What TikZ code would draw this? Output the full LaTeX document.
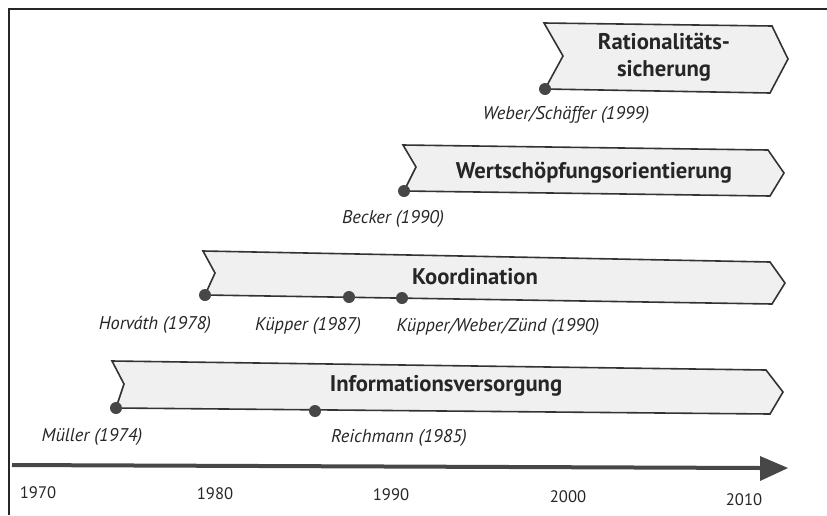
\documentclass[tikz,border=0pt]{standalone}
\usepackage{fontspec}
\setmainfont{PT Sans}
\begin{document}
\begin{tikzpicture}[x=0.75pt,y=-0.75pt,
  phase/.style={draw=black!80,line width=1.2pt,fill=black!6,line join=miter},
  phasetext/.style={font=\bfseries\fontsize{17}{20.5}\selectfont,text=black!85,align=center,inner sep=0pt},
  event/.style={circle,fill=black!72,inner sep=0pt,minimum size=9pt},
  author/.style={font=\itshape\fontsize{13.8}{15}\selectfont,text=black!85,inner sep=0pt},
  year/.style={font=\fontsize{12.5}{14}\selectfont,text=black!85,inner sep=0pt},
  axisline/.style={draw=black!72,line width=3pt}]
\useasboundingbox (0,0) rectangle (827,515);
% frame edges
\draw[black!85,line width=1.5pt] (9,515) -- (9,9) -- (827,9);

% time axis
\coordinate (a0) at (12,465);
\coordinate (a1) at (762,468);
\node[inner sep=0pt] (tip) at (788,468) {};
\draw[axisline] (a0) -- (a1);
\fill[black!72] (760,456) -- (tip.center) -- (760,481) -- cycle;
\node[year] (y1970) at (38,493) {1970};
\node[year] (y1980) at (215,494) {1980};
\node[year] (y1990) at (391,495) {1990};
\node[year] (y2000) at (568,497) {2000};
\node[year] (y2010) at (744,500) {2010};

% Informationsversorgung
\coordinate (mueller) at (116,408);
\draw[phase] (112,361) -- (124,384) -- (mueller) -- (770,414) -- (783,392) -- (766,370) -- cycle;
\node[event] (n-mueller) at (mueller) {};
\node[event] (reichmann) at (315,411) {};
\node[phasetext] (info) at (446,386) {Informationsversorgung};
\node[author] (l-mueller) at (92,437) {Müller (1974)};
\node[author] (l-reichmann) at (399,438) {Reichmann (1985)};

% Koordination
\coordinate (horvath) at (205,295);
\draw[phase] (203,251) -- (215,273) -- (horvath) -- (772,304) -- (785,283) -- (770,262) -- cycle;
\node[event] (n-horvath) at (horvath) {};
\node[event] (kuepper) at (349,297) {};
\node[event] (kwz) at (402,298) {};
\node[phasetext] (koord) at (475,277) {Koordination};
\node[author] (l-horvath) at (155,325) {Horváth (1978)};
\node[author] (l-kuepper) at (308,326) {Küpper (1987)};
\node[author] (l-kwz) at (498,327) {Küpper/Weber/Zünd (1990)};

% Wertschöpfungsorientierung
\coordinate (becker) at (404,191);
\draw[phase] (403,145) -- (416,167) -- (becker) -- (770,196) -- (784,173) -- (768,150) -- cycle;
\node[event] (n-becker) at (becker) {};
\node[phasetext] (wert) at (594,173) {Wertschöpfungsorientierung};
\node[author] (l-becker) at (393,219) {Becker (1990)};

% Rationalitätssicherung
\coordinate (weber) at (545,89);
\draw[phase] (544,23) -- (563,56) -- (weber) -- (770,93) -- (788,59) -- (772,26) -- cycle;
\node[event] (n-weber) at (weber) {};
\node[phasetext] (ratio) at (664,57) {Rationalitäts-\\sicherung};
\node[author] (l-weber) at (566,115) {Weber/Schäffer (1999)};
\end{tikzpicture}
\end{document}
